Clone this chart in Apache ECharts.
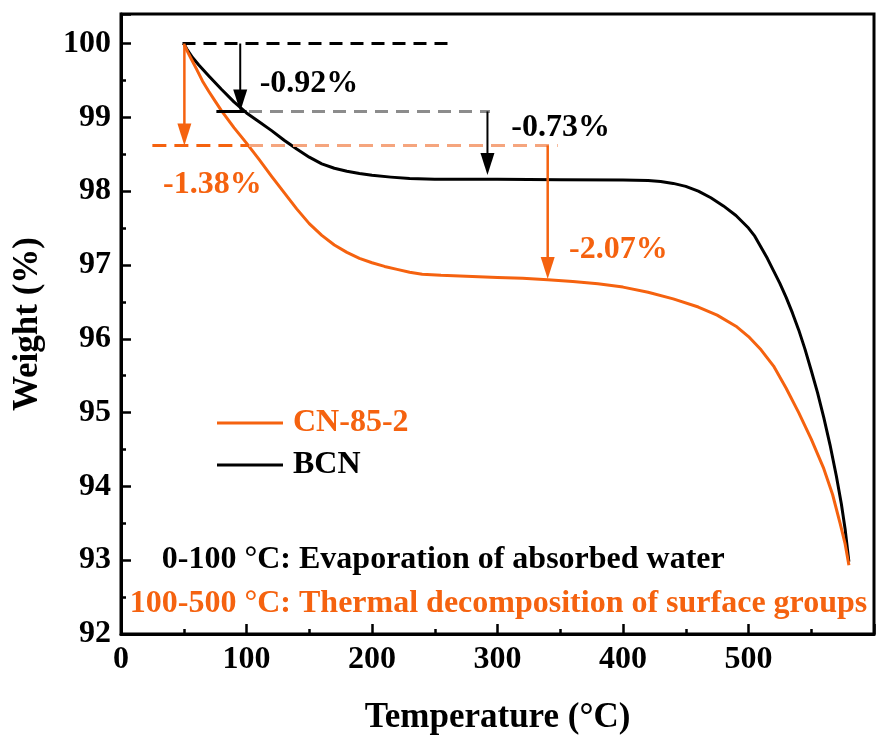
<!DOCTYPE html>
<html>
<head>
<meta charset="utf-8">
<script src="https://cdn.jsdelivr.net/npm/echarts@6/dist/echarts.min.js"></script>
<style>
  html, body { margin: 0; padding: 0; background: #fff; }
  #chart { width: 877px; height: 740px; }
</style>
</head>
<body>
<div id="chart"></div>
<script>
// TGA curves: temperature (°C) and remaining weight (%)
const bcnTemp   = [50, 53, 57, 62, 70, 80, 90, 100, 110, 120, 130, 140, 150, 160, 170, 180, 190, 200, 215, 230, 250, 300, 350, 400, 420, 430, 440, 450, 460, 470, 480, 490, 500, 505, 510, 515, 520, 525, 530, 535, 540, 545, 550, 555, 560, 565, 570, 574, 577, 580];
const bcnWeight = [100, 99.91, 99.81, 99.71, 99.56, 99.38, 99.21, 99.06, 98.94, 98.82, 98.69, 98.57, 98.46, 98.37, 98.31, 98.27, 98.24, 98.215, 98.19, 98.17, 98.16, 98.16, 98.155, 98.15, 98.145, 98.13, 98.105, 98.065, 98.00, 97.91, 97.80, 97.67, 97.50, 97.39, 97.24, 97.09, 96.92, 96.75, 96.56, 96.35, 96.12, 95.86, 95.57, 95.27, 94.93, 94.56, 94.14, 93.76, 93.42, 92.98];

const cnTemp   = [50, 53, 56, 60, 65, 70, 75, 80, 90, 100, 110, 120, 130, 140, 150, 160, 170, 180, 190, 200, 210, 220, 230, 240, 255, 280, 300, 320, 340, 360, 380, 400, 420, 440, 460, 475, 490, 500, 510, 520, 530, 540, 550, 560, 567, 573, 577, 580];
const cnWeight = [100, 99.89, 99.79, 99.66, 99.49, 99.35, 99.22, 99.09, 98.86, 98.65, 98.43, 98.20, 97.98, 97.76, 97.56, 97.40, 97.27, 97.17, 97.09, 97.03, 96.98, 96.94, 96.90, 96.875, 96.86, 96.845, 96.83, 96.82, 96.80, 96.775, 96.745, 96.70, 96.63, 96.54, 96.43, 96.32, 96.17, 96.03, 95.85, 95.63, 95.33, 95.00, 94.64, 94.24, 93.89, 93.50, 93.22, 92.93];

const seriesNames = ['CN-85-2', 'BCN'];
const xTickValues = [0, 100, 200, 300, 400, 500];
const yTickValues = [92, 93, 94, 95, 96, 97, 98, 99, 100];

// Weight-loss arrows: [temperature, from weight, to weight]
const blackArrows  = [[95, 100, 99.08], [292, 99.08, 98.22]];
const orangeArrows = [[50.5, 100, 98.62], [340, 98.62, 96.81]];

// Horizontal guide levels: [start temp, end temp, weight]
const guideBlack       = [49, 261, 100];
const guideBlackStub   = [76, 100, 99.08];
const guideGray        = [102, 294, 99.08];
const guideOrangeDark  = [25, 102, 98.62];
const guideOrangeLight = [102, 348, 98.62];

// Text annotations: [temperature, weight, text]
const blackNotes  = [[110.5, 99.45, '-0.92%'], [311, 98.86, '-0.73%'], [32.5, 93.0, '0-100 °C: Evaporation of absorbed water']];
const orangeNotes = [[33.5, 98.09, '-1.38%'], [357, 97.20, '-2.07%'], [7, 92.41, '100-500 °C: Thermal decomposition of surface groups']];

const ORANGE = '#F5620F';
const ORANGE_LIGHT = '#F5A57E';
const GRAY = '#8C8C8C';
const FONT = '"Liberation Serif", "Times New Roman", serif';

const zip = (xs, ys) => xs.map((x, i) => [x, ys[i]]);
const guide = (g) => [[g[0], g[2]], [g[1], g[2]]];

function guideSeries(g, color, dash) {
  return {
    type: 'line', data: guide(g), symbol: 'none', silent: true, z: 4,
    lineStyle: { color: color, width: 3, type: dash }
  };
}

function arrowSeries(data, color, width) {
  return {
    type: 'custom', silent: true, z: 5,
    data: data,
    encode: { x: 0, y: [1, 2] },
    renderItem: function (params, api) {
      const t = api.value(0);
      const p0 = api.coord([t, api.value(1)]);
      const p1 = api.coord([t, api.value(2)]);
      const hl = 22, hw = 7;
      return {
        type: 'group',
        children: [
          { type: 'line', shape: { x1: p0[0], y1: p0[1], x2: p1[0], y2: p1[1] - hl + 2 },
            style: { stroke: color, lineWidth: width } },
          { type: 'polygon', shape: { points: [[p1[0] - hw, p1[1] - hl], [p1[0] + hw, p1[1] - hl], [p1[0], p1[1]]] },
            style: { fill: color } }
        ]
      };
    }
  };
}

function noteSeries(notes, color) {
  return {
    type: 'scatter', silent: true, z: 6, symbolSize: 0,
    itemStyle: { opacity: 1 },
    data: notes.map(n => ({ value: [n[0], n[1]], text: n[2] })),
    label: {
      show: true, position: 'right', distance: 0, opacity: 1,
      formatter: p => p.data.text,
      color: color, fontSize: 32, fontWeight: 'bold', fontFamily: FONT,
      textBorderWidth: 0
    }
  };
}

const chart = echarts.init(document.getElementById('chart'), null, { renderer: 'canvas' });

chart.setOption({
  animation: false,
  backgroundColor: '#fff',
  grid: { left: 121, top: 14, right: 1, bottom: 104, show: true, borderColor: '#000', borderWidth: 3 },
  legend: {
    orient: 'vertical', left: 217, top: 407, padding: 0,
    icon: 'rect', itemWidth: 66, itemHeight: 3, itemGap: 10,
    textStyle: { fontSize: 32, fontWeight: 'bold', fontFamily: FONT, padding: [0, 0, 0, 5] },
    data: [
      { name: seriesNames[0], textStyle: { color: ORANGE } },
      { name: seriesNames[1], textStyle: { color: '#000' } }
    ]
  },
  xAxis: {
    type: 'value', min: 0, max: 600, interval: 100,
    name: 'Temperature (°C)', nameLocation: 'middle', nameGap: 66,
    nameTextStyle: { fontSize: 35, fontWeight: 'bold', fontFamily: FONT, color: '#000' },
    axisLine: { onZero: false, lineStyle: { color: '#000', width: 3 } },
    axisTick: { inside: true, length: 10, lineStyle: { color: '#000', width: 2.5 } },
    minorTick: { show: true, splitNumber: 2, length: 5, lineStyle: { color: '#000', width: 2.5 } },
    splitLine: { show: false },
    axisLabel: {
      margin: 10, fontSize: 32, fontWeight: 'bold', fontFamily: FONT, color: '#000',
      formatter: v => (xTickValues.includes(v) ? String(v) : '')
    }
  },
  yAxis: {
    type: 'value', min: 92, max: 100.4, interval: 1,
    name: 'Weight (%)', nameLocation: 'middle', nameGap: 76,
    nameTextStyle: { fontSize: 35, fontWeight: 'bold', fontFamily: FONT, color: '#000' },
    axisLine: { onZero: false, lineStyle: { color: '#000', width: 3 } },
    axisTick: { inside: true, length: 10, lineStyle: { color: '#000', width: 2.5 } },
    minorTick: { show: true, splitNumber: 2, length: 5, lineStyle: { color: '#000', width: 2.5 } },
    splitLine: { show: false },
    axisLabel: {
      margin: 10, fontSize: 32, fontWeight: 'bold', fontFamily: FONT, color: '#000',
      formatter: v => (yTickValues.includes(v) ? String(v) : '')
    }
  },
  series: [
    {
      name: seriesNames[1], type: 'line', data: zip(bcnTemp, bcnWeight),
      symbol: 'none', smooth: false, z: 3,
      lineStyle: { color: '#000', width: 3, join: 'round' }, itemStyle: { color: '#000' }
    },
    {
      name: seriesNames[0], type: 'line', data: zip(cnTemp, cnWeight),
      symbol: 'none', smooth: false, z: 3,
      lineStyle: { color: ORANGE, width: 3, join: 'round' }, itemStyle: { color: ORANGE }
    },
    guideSeries(guideBlack, '#000', [13, 8]),
    guideSeries(guideBlackStub, '#000', 'solid'),
    guideSeries(guideGray, GRAY, [13, 8]),
    guideSeries(guideOrangeDark, ORANGE, [14, 8]),
    guideSeries(guideOrangeLight, ORANGE_LIGHT, [14, 8]),
    arrowSeries(blackArrows, '#000', 2),
    arrowSeries(orangeArrows, ORANGE, 2.5),
    noteSeries(blackNotes, '#000'),
    noteSeries(orangeNotes, ORANGE)
  ]
});
</script>
</body>
</html>
